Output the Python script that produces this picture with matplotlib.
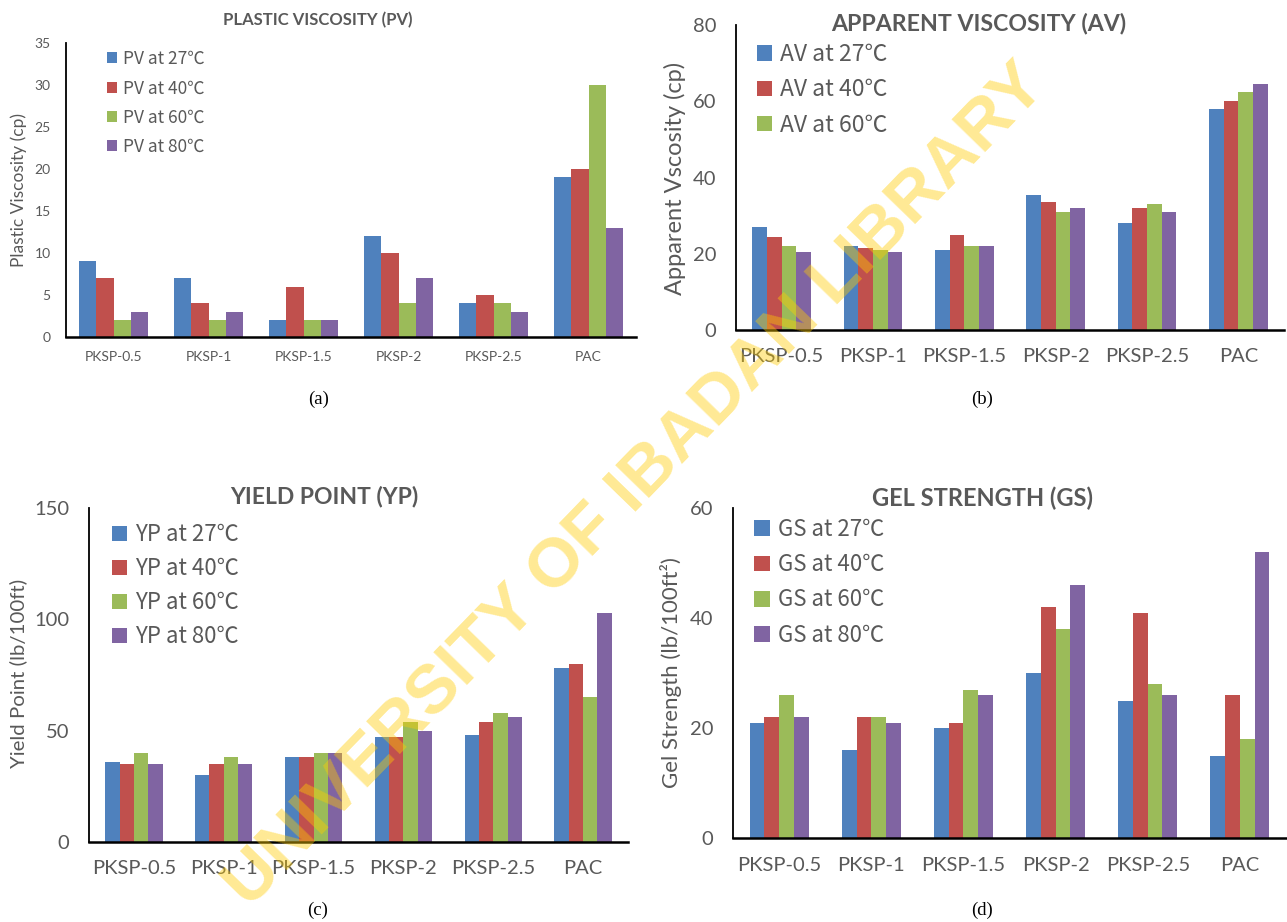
import matplotlib
matplotlib.use("Agg")
import matplotlib.pyplot as plt
import numpy as np

plt.rcParams['font.family'] = ['Lato', 'Noto Sans CJK SC', 'DejaVu Sans']

categories = ["PKSP-0.5", "PKSP-1", "PKSP-1.5", "PKSP-2", "PKSP-2.5", "PAC"]
temps = ["27", "40", "60", "80"]

pv_27 = [9, 7, 2, 12, 4, 19]
pv_40 = [7, 4, 6, 10, 5, 20]
pv_60 = [2, 2, 2, 4, 4, 30]
pv_80 = [3, 3, 2, 7, 3, 13]

av_27 = [27, 22, 21, 35.5, 28, 58]
av_40 = [24.5, 21.5, 25, 33.5, 32, 60]
av_60 = [22, 21, 22, 31, 33, 62.5]
av_80 = [20.5, 20.5, 22, 32, 31, 64.5]

yp_27 = [36, 30, 38, 47, 48, 78]
yp_40 = [35, 35, 38, 47, 54, 80]
yp_60 = [40, 38, 40, 54, 58, 65]
yp_80 = [35, 35, 40, 50, 56, 103]

gs_27 = [21, 16, 20, 30, 25, 15]
gs_40 = [22, 22, 21, 42, 41, 26]
gs_60 = [26, 22, 27, 38, 28, 18]
gs_80 = [22, 21, 26, 46, 26, 52]

colors = ["#4F81BD", "#C0504D", "#9BBB59", "#8064A2"]
TXT = "#595959"
LEG_FAMILY = ["Noto Sans CJK SC", "DejaVu Sans"]

W, H = 1287, 922
fig = plt.figure(figsize=(W / 100, H / 100), dpi=100)


def rect(l, r, t, b):
    return [l / W, 1 - b / H, (r - l) / W, (b - t) / H]


def fx(x):
    return x / W


def fy(y):
    return 1 - y / H


panels = [
    dict(series=[pv_27, pv_40, pv_60, pv_80], prefix="PV", box=(66, 636, 43, 337),
         ylim=35, step=5, bw=0.182, title="PLASTIC VISCOSITY (PV)", tpos=(318, 20), tfs=12,
         ylabel="Plastic Viscosity (cp)", ylpos=(19, 190), fs=10, ylfs=12.5, xpad=10, ypad=11,
         leg=(107, 50), legfs=12.5, nleg=4, hl=0.58, ls=0.65, cap="(a)", cpos=(319, 399)),
    dict(series=[av_27, av_40, av_60, av_80], prefix="AV", box=(736, 1284, 25, 330),
         ylim=80, step=20, bw=0.16, title="APPARENT VISCOSITY (AV)", tpos=(979, 23), tfs=16.7,
         ylabel="Apparent Vscosity (cp)", ylpos=(675, 178), fs=14.5, ylfs=17, xpad=13, ypad=14,
         leg=(757, 43), legfs=16.5, nleg=3, hl=0.65, ls=0.54, cap="(b)", cpos=(982, 399)),
    dict(series=[yp_27, yp_40, yp_60, yp_80], prefix="YP", box=(89, 628, 508, 842),
         ylim=150, step=50, bw=0.16, title="YIELD POINT (YP)", tpos=(324, 496), tfs=16.5,
         ylabel="Yield Point (lb/100ft)", ylpos=(18, 673), fs=14.5, ylfs=14.7, xpad=13, ypad=14,
         leg=(112, 523), legfs=16, nleg=4, hl=0.68, ls=0.5, cap="(c)", cpos=(318, 910)),
    dict(series=[gs_27, gs_40, gs_60, gs_80], prefix="GS", box=(733, 1286, 508, 838),
         ylim=60, step=20, bw=0.16, title="GEL STRENGTH (GS)", tpos=(982, 498), tfs=17,
         ylabel="Gel Strength (lb/100ft²)", ylpos=(671, 673), fs=14.5, ylfs=16, xpad=14, ypad=14,
         leg=(754, 518), legfs=16, nleg=4, hl=0.72, ls=0.55, cap="(d)", cpos=(982, 910)),
]

x = np.arange(len(categories))
for p in panels:
    l, r, t, b = p["box"]
    ax = fig.add_axes(rect(l, r, t, b))
    handles = []
    for j, (vals, c) in enumerate(zip(p["series"], colors)):
        h = ax.bar(x + (j - 1.5) * p["bw"], vals, p["bw"], color=c,
                   label=f"{p['prefix']} at {temps[j]}℃", linewidth=0)
        handles.append(h)
    ax.set_xlim(-0.5, len(categories) - 0.5)
    ax.set_ylim(0, p["ylim"])
    ax.set_yticks(np.arange(0, p["ylim"] + 0.1, p["step"]))
    ax.set_xticks(x)
    ax.set_xticklabels(categories)
    for s in ["top", "right"]:
        ax.spines[s].set_visible(False)
    ax.spines["left"].set_linewidth(1.3)
    ax.spines["bottom"].set_linewidth(1.8)
    ax.spines["left"].set_color("black")
    ax.spines["bottom"].set_color("black")
    ax.tick_params(axis="both", length=0, labelsize=p["fs"], labelcolor=TXT)
    ax.tick_params(axis="x", pad=p["xpad"])
    ax.tick_params(axis="y", pad=p["ypad"])
    ax.set_ylabel(p["ylabel"], fontsize=p["ylfs"], color=TXT, va="center")
    ax.yaxis.set_label_coords(fx(p["ylpos"][0]), fy(p["ylpos"][1]), transform=fig.transFigure)
    leg = ax.legend(handles[:p["nleg"]], [h.get_label() for h in handles[:p["nleg"]]],
                    loc="upper left", bbox_to_anchor=(fx(p["leg"][0]), fy(p["leg"][1])),
                    bbox_transform=fig.transFigure, frameon=False, borderpad=0, borderaxespad=0,
                    handlelength=p["hl"], handleheight=p["hl"], handletextpad=0.35,
                    labelspacing=p["ls"], fontsize=p["legfs"], labelcolor=TXT)
    for t in leg.get_texts():
        t.set_fontfamily(LEG_FAMILY)
    fig.text(fx(p["tpos"][0]), fy(p["tpos"][1]), p["title"], ha="center", va="center",
             fontsize=p["tfs"], fontweight="bold", color=TXT)
    fig.text(fx(p["cpos"][0]), fy(p["cpos"][1]), p["cap"], ha="center", va="center",
             fontsize=13.5, family="Liberation Serif", color="black")

fig.text(fx(636), fy(486), "UNIVERSITY OF IBADAN LIBRARY", ha="center", va="center",
         rotation=45.8, rotation_mode="anchor", fontsize=50, fontweight="bold",
         family="Liberation Sans", color="#FFCC00", alpha=0.42, zorder=10)

fig.savefig("out.png", dpi=100)
